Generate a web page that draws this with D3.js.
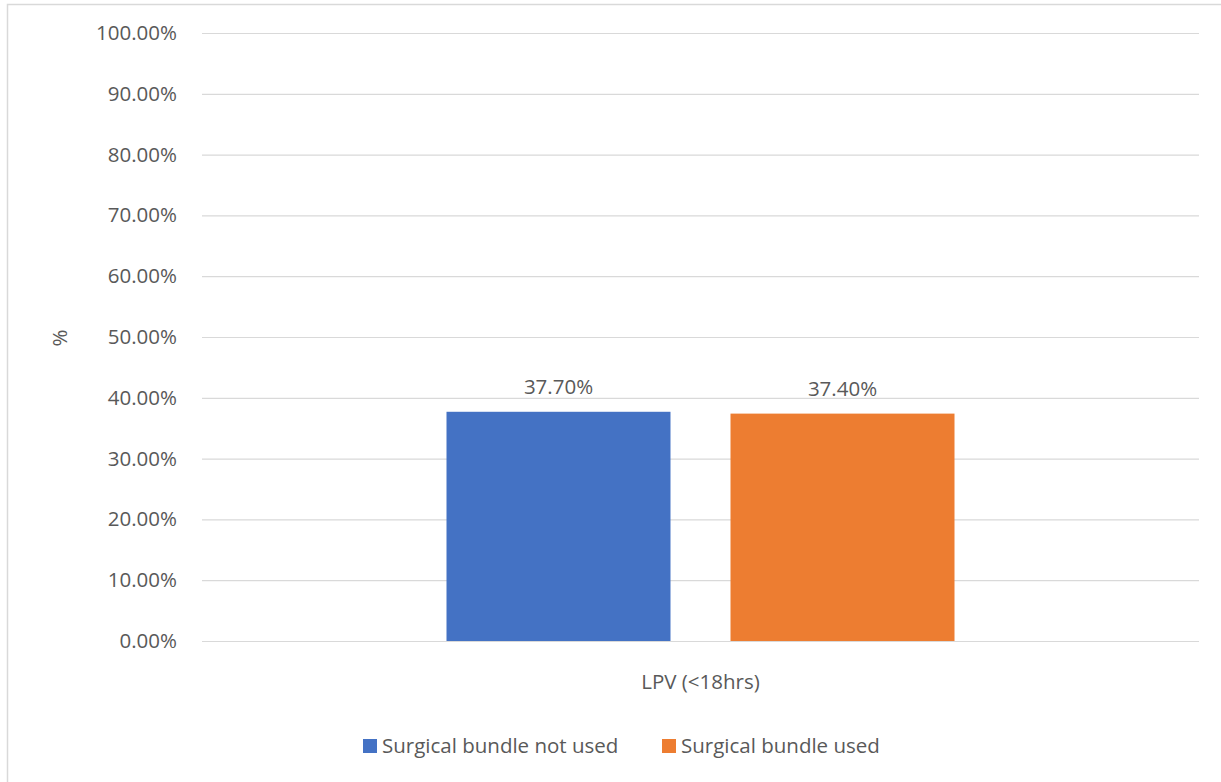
<!DOCTYPE html>
<html>
<head>
<meta charset="utf-8">
<script src="https://cdn.jsdelivr.net/npm/d3@7"></script>
<style>
  html, body { margin: 0; padding: 0; background: #fff; }
  svg { display: block; }
  text { font-family: "Open Sans", sans-serif; fill: #595959; }
</style>
</head>
<body>
<svg id="chart" width="1221" height="782"></svg>
<script>
// Chart data
const categories = ["LPV (<18hrs)"];
const seriesNames = ["Surgical bundle not used", "Surgical bundle used"];
const seriesColors = ["#4472c4", "#ed7d31"];
const notUsedValues = [37.7];
const usedValues = [37.4];
const yTicks = [0, 10, 20, 30, 40, 50, 60, 70, 80, 90, 100];

const seriesValues = [notUsedValues, usedValues];

const W = 1221, H = 782;
const plot = { left: 202, right: 1199, top: 33, bottom: 641 };
const FS = 20.5;

const svg = d3.select("#chart");

// chart frame
svg.append("rect")
  .attr("x", 7.5).attr("y", 4.5)
  .attr("width", W).attr("height", H)
  .attr("fill", "#fff")
  .attr("stroke", "#d9d9d9")
  .attr("stroke-width", 1.5);

const y = d3.scaleLinear().domain([0, 100]).range([plot.bottom, plot.top]);

const x0 = d3.scaleBand()
  .domain(categories)
  .range([plot.left, plot.right])
  .paddingInner(0)
  .paddingOuter(0.4813);

const x1 = d3.scaleBand()
  .domain(seriesNames)
  .range([0, x0.bandwidth()])
  .paddingInner(0.2113)
  .paddingOuter(0);

// gridlines
const yAxis = d3.axisLeft(y)
  .tickValues(yTicks)
  .tickSize(-(plot.right - plot.left))
  .tickPadding(25)
  .tickFormat(d => d.toFixed(2) + "%");

const gy = svg.append("g")
  .attr("transform", `translate(${plot.left},0)`)
  .call(yAxis);
gy.select(".domain").remove();
gy.selectAll(".tick line").attr("stroke", "#d9d9d9").attr("stroke-width", 1.2);
gy.selectAll(".tick text")
  .attr("font-size", FS)
  .attr("fill", "#595959")
  .style("font-family", "'Open Sans', sans-serif");

// bars
const groups = svg.append("g").selectAll("g")
  .data(categories)
  .join("g")
  .attr("transform", d => `translate(${x0(d)},0)`);

groups.selectAll("rect")
  .data((d, i) => seriesNames.map((s, k) => ({ s, k, v: seriesValues[k][i] })))
  .join("rect")
  .attr("x", d => x1(d.s))
  .attr("y", d => y(d.v))
  .attr("width", x1.bandwidth())
  .attr("height", d => y(0) - y(d.v))
  .attr("fill", d => seriesColors[d.k]);

// value labels
groups.selectAll("text.val")
  .data((d, i) => seriesNames.map((s, k) => ({ s, k, v: seriesValues[k][i] })))
  .join("text")
  .attr("class", "val")
  .attr("x", d => x1(d.s) + x1.bandwidth() / 2)
  .attr("y", d => y(d.v) - 18)
  .attr("text-anchor", "middle")
  .attr("font-size", FS)
  .text(d => d.v.toFixed(2) + "%");

// category label
svg.append("g").selectAll("text")
  .data(categories)
  .join("text")
  .attr("x", d => x0(d) + x0.bandwidth() / 2)
  .attr("y", 689)
  .attr("text-anchor", "middle")
  .attr("font-size", FS)
  .text(d => d);

// y axis title
svg.append("text")
  .attr("transform", "translate(67,338) rotate(-90)")
  .attr("text-anchor", "middle")
  .attr("font-size", FS)
  .text("%");

// legend
const legendItems = [
  { name: seriesNames[0], color: seriesColors[0], x: 363 },
  { name: seriesNames[1], color: seriesColors[1], x: 662 }
];
const lg = svg.append("g");
lg.selectAll("rect")
  .data(legendItems)
  .join("rect")
  .attr("x", d => d.x)
  .attr("y", 739)
  .attr("width", 14)
  .attr("height", 14)
  .attr("fill", d => d.color);
lg.selectAll("text")
  .data(legendItems)
  .join("text")
  .attr("x", d => d.x + 19)
  .attr("y", 753)
  .attr("font-size", FS)
  .text(d => d.name);
</script>
</body>
</html>
